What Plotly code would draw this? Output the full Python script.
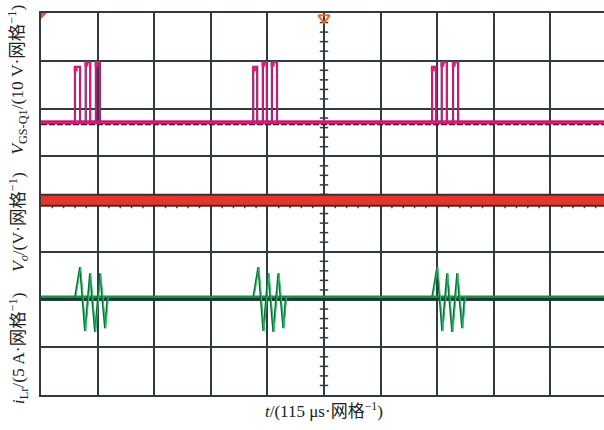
import plotly.graph_objects as go

# ---- data (units: screen divisions; x: 0..10 div, y: 0..8 div) ----
# V_GS-Q1 gate pulses (rise/fall instants, high levels)
vgs_rise = [0.60, 0.79, 0.97, 3.75, 3.92, 4.08, 6.91, 7.08, 7.28]
vgs_fall = [0.69, 0.87, 1.04, 3.82, 3.99, 4.17, 6.98, 7.17, 7.37]
vgs_high = [6.87, 6.97, 6.97, 6.87, 6.97, 6.97, 6.87, 6.97, 6.97]
vgs_base = 5.71

# V_o level
vo_level = 4.08

# i_Lr ringing bursts: burst starts and shape (offset in div, level in div)
ilr_burst_start = [0.60, 3.75, 6.91]
ilr_offsets = [0.0, 0.088, 0.177, 0.265, 0.353, 0.442, 0.530, 0.575]
ilr_levels = [2.05, 2.68, 1.34, 2.55, 1.32, 2.55, 1.40, 2.05]
ilr_base = 2.05

x_end = 9.947
grid_col = "#2f3a42"

fig = go.Figure()

# ---- centre graticule minor ticks (drawn first, under the traces) ----
minor_y = [i / 5 for i in range(1, 40) if i % 5 != 0]
minor_x = [i / 5 for i in range(1, 50) if i % 5 != 0]
fig.add_trace(go.Scatter(x=[5] * len(minor_y), y=minor_y, mode="markers",
                         marker=dict(symbol="line-ew", size=6, line=dict(color=grid_col, width=1.5)),
                         hoverinfo="skip"))
fig.add_trace(go.Scatter(x=minor_x, y=[4] * len(minor_x), mode="markers",
                         marker=dict(symbol="line-ns", size=6, line=dict(color=grid_col, width=1.5)),
                         hoverinfo="skip"))

# ---- V_o band ----
fig.add_trace(go.Scatter(x=[0, x_end], y=[vo_level, vo_level], mode="lines",
                         line=dict(color="#4a2a22", width=13), hoverinfo="skip"))
fig.add_trace(go.Scatter(x=[0, x_end], y=[vo_level, vo_level], mode="lines",
                         line=dict(color="#e5352b", width=9), hoverinfo="skip"))

# ---- V_GS trace ----
fig.add_trace(go.Scatter(x=[0, x_end], y=[vgs_base - 0.045] * 2, mode="lines",
                         line=dict(color="#1a1a1a", width=1.5, dash="6px,2px"), hoverinfo="skip"))
fig.add_trace(go.Scatter(x=[0, x_end], y=[vgs_base, vgs_base], mode="lines",
                         line=dict(color="#e6197c", width=4), hoverinfo="skip"))
vx, vy = [0.0], [vgs_base]
for r, f, h in zip(vgs_rise, vgs_fall, vgs_high):
    vx += [r, r, f, f]
    vy += [vgs_base, h, h, vgs_base]
vx.append(x_end)
vy.append(vgs_base)
fig.add_trace(go.Scatter(x=vx, y=vy, mode="lines",
                         line=dict(color="#7a2a66", width=2.2), hoverinfo="skip"))
fig.add_trace(go.Scatter(x=vx, y=vy, mode="lines",
                         line=dict(color="#e6197c", width=1.2), hoverinfo="skip"))
# magenta blobs at top corners
fig.add_trace(go.Scatter(x=[r + 0.012 for r in vgs_rise], y=[h - 0.05 for h in vgs_high],
                         mode="markers", marker=dict(symbol="square", size=4, color="#e6197c"),
                         hoverinfo="skip"))

# ---- i_Lr trace ----
fig.add_trace(go.Scatter(x=[0, x_end], y=[ilr_base - 0.02] * 2, mode="lines",
                         line=dict(color="#0b3d1e", width=3), hoverinfo="skip"))
fig.add_trace(go.Scatter(x=[0, x_end], y=[ilr_base + 0.01] * 2, mode="lines",
                         line=dict(color="#13904a", width=2.5), hoverinfo="skip"))
for b in ilr_burst_start:
    fig.add_trace(go.Scatter(x=[b + o for o in ilr_offsets], y=ilr_levels, mode="lines",
                             line=dict(color="#0d6b34", width=1.8), hoverinfo="skip"))
    fig.add_trace(go.Scatter(x=[b + o + 0.015 for o in ilr_offsets], y=ilr_levels, mode="lines",
                             line=dict(color="#2cc070", width=1), hoverinfo="skip"))

# ---- trigger / position markers ----
fig.add_trace(go.Scatter(x=[0.03], y=[7.96], mode="markers", cliponaxis=False,
                         marker=dict(symbol="triangle-nw", size=8, color="#f05a1e"), hoverinfo="skip"))
fig.add_trace(go.Scatter(x=[5], y=[7.9], mode="markers", cliponaxis=False,
                         marker=dict(symbol="triangle-down-open", size=10, color="#f06a1e",
                                     line=dict(color="#f06a1e", width=2)), hoverinfo="skip"))

font_fam = "Liberation Serif, Noto Sans CJK SC, serif"
fig.update_layout(
    width=604, height=430,
    margin=dict(l=41, r=0, t=13, b=35),
    paper_bgcolor="white", plot_bgcolor="white",
    showlegend=False,
    xaxis=dict(range=[0, x_end], dtick=1, tick0=0, showticklabels=False, ticks="",
               showgrid=True, gridcolor=grid_col, gridwidth=1.5, zeroline=False,
               showline=True, linecolor=grid_col, linewidth=2, mirror=True),
    yaxis=dict(range=[0, 8], dtick=1, tick0=0, showticklabels=False, ticks="",
               showgrid=True, gridcolor=grid_col, gridwidth=1.5, zeroline=False,
               showline=True, linecolor=grid_col, linewidth=2, mirror=False),
    font=dict(family=font_fam, color="#222", size=17),
)

labels = [
    ("<i>V</i><sub>GS-Q1</sub>/(10 V·网格<sup>−1</sup>)", 6.6),
    ("<i>V</i><sub><i>o</i></sub>/(V·网格<sup>−1</sup>)", 3.62),
    ("<i>i</i><sub>Lr</sub>/(5 A·网格<sup>−1</sup>)", 0.98),
]
for txt, yy in labels:
    fig.add_annotation(text=txt, xref="paper", yref="y", x=-0.041, y=yy,
                       textangle=-90, showarrow=False, xanchor="center", yanchor="middle",
                       font=dict(family=font_fam, size=17.5, color="#222"))

fig.add_annotation(text="<i>t</i>/(115 μs·网格<sup>−1</sup>)", xref="x", yref="paper",
                   x=5, y=-0.04, showarrow=False, xanchor="center", yanchor="middle",
                   font=dict(family=font_fam, size=17, color="#222"))

fig.write_html("out.html")
